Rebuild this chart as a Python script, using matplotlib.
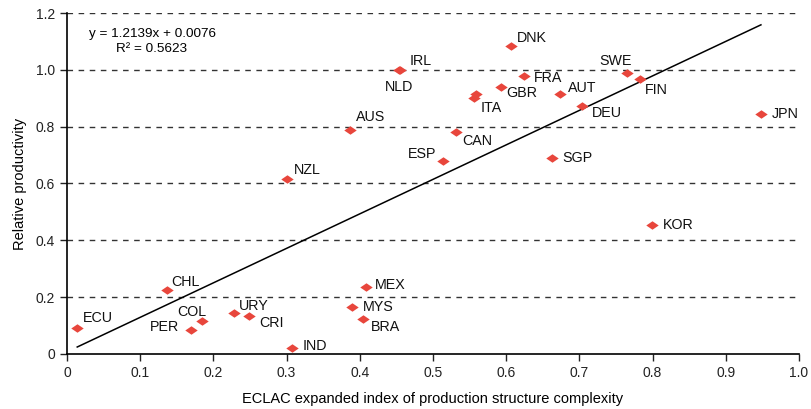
import matplotlib.pyplot as plt
import numpy as np

plt.rcParams['font.family'] = ['Liberation Sans', 'DejaVu Sans']

# complexity index (x) vs relative productivity (y), one entry per country
countries = ['ECU', 'CHL', 'PER', 'COL', 'URY', 'CRI', 'IND', 'MYS', 'MEX', 'BRA',
             'NZL', 'AUS', 'CAN', 'ESP', 'SGP', 'KOR', 'IRL', 'NLD', 'DNK', 'FRA',
             'GBR', 'ITA', '', 'AUT', 'DEU', 'SWE', 'FIN', 'JPN']
complexity = [0.014, 0.137, 0.169, 0.185, 0.228, 0.249, 0.308, 0.390, 0.408, 0.404,
              0.300, 0.387, 0.531, 0.513, 0.663, 0.799, 0.455, 0.454, 0.607, 0.624,
              0.593, 0.556, 0.559, 0.674, 0.703, 0.765, 0.783, 0.948]
productivity = [0.093, 0.225, 0.085, 0.116, 0.143, 0.133, 0.021, 0.164, 0.235, 0.122,
                0.615, 0.788, 0.782, 0.680, 0.689, 0.454, 0.999, 0.998, 1.085, 0.979,
                0.941, 0.900, 0.915, 0.915, 0.873, 0.990, 0.969, 0.846]

slope = 1.2139
intercept = 0.0076
r2 = 0.5623

# where each label sits relative to its marker (pixels, alignment)
label_pos = {
    'ECU': (6, 10, 'left'), 'CHL': (4, 8, 'left'), 'PER': (-12, 3, 'right'),
    'COL': (4, 9, 'right'), 'URY': (5, 7, 'left'), 'CRI': (10, -7, 'left'),
    'IND': (10, 2, 'left'), 'MYS': (10, 0, 'left'), 'MEX': (9, 2, 'left'),
    'BRA': (8, -8, 'left'), 'NZL': (7, 9, 'left'), 'AUS': (6, 13, 'left'),
    'CAN': (7, -9, 'left'), 'ESP': (-6, 7, 'right'), 'SGP': (10, 0, 'left'),
    'KOR': (11, 0, 'left'), 'IRL': (10, 9, 'left'), 'NLD': (0, -17, 'center'),
    'DNK': (6, 8, 'left'), 'FRA': (10, -2, 'left'), 'GBR': (5, -6, 'left'),
    'ITA': (7, -10, 'left'), 'AUT': (8, 6, 'left'), 'DEU': (10, -7, 'left'),
    'SWE': (5, 12, 'right'), 'FIN': (5, -11, 'left'), 'JPN': (11, 0, 'left'),
}

fig = plt.figure(figsize=(8.11, 4.09), dpi=100)
ax = fig.add_axes([0.0826, 0.1345, 0.9026, 0.8337])

red = '#e8463c'
diamond = [(-1, 0), (0, 0.68), (1, 0), (0, -0.68), (-1, 0)]
ax.scatter(complexity, productivity, marker=diamond, s=80, color=red,
           linewidths=0, zorder=3)

# linear trend over the data range
xs = np.array([min(complexity), max(complexity)])
ax.plot(xs, slope * xs + intercept, color='black', lw=1.1, zorder=2)

for name, x, y in zip(countries, complexity, productivity):
    if not name:
        continue
    dx, dy, ha = label_pos[name]
    ax.annotate(name, (x, y), xytext=(dx, dy), textcoords='offset pixels',
                ha=ha, va='center', fontsize=10.3, color='#111111')

ax.text(0.030, 1.126, 'y = 1.2139x + %.4f' % intercept, fontsize=9.7,
        ha='left', va='center')
ax.text(0.067, 1.074, 'R² = %.4f' % r2, fontsize=9.7, ha='left', va='center')

ax.set_xlim(0, 1.0)
ax.set_ylim(0, 1.2)
ax.set_xticks(np.arange(0, 1.01, 0.1))
ax.set_xticklabels(['0'] + ['%.1f' % v for v in np.arange(0.1, 1.01, 0.1)])
ax.set_yticks(np.arange(0, 1.21, 0.2))
ax.set_yticklabels(['0'] + ['%.1f' % v for v in np.arange(0.2, 1.21, 0.2)])
ax.tick_params(labelsize=10, length=5, width=1, direction='out', colors='#222222')

for v in np.arange(0.2, 1.21, 0.2):
    ax.axhline(v, color='#333333', lw=1, ls=(0, (4, 4)), zorder=1)

for side in ['top', 'right']:
    ax.spines[side].set_visible(False)
for side in ['left', 'bottom']:
    ax.spines[side].set_linewidth(1.2)
    ax.spines[side].set_color('black')

ax.set_xlabel('ECLAC expanded index of production structure complexity',
              fontsize=10.5, labelpad=9)
ax.set_ylabel('Relative productivity', fontsize=10.5, labelpad=6)

fig.savefig('out.png', dpi=100)
